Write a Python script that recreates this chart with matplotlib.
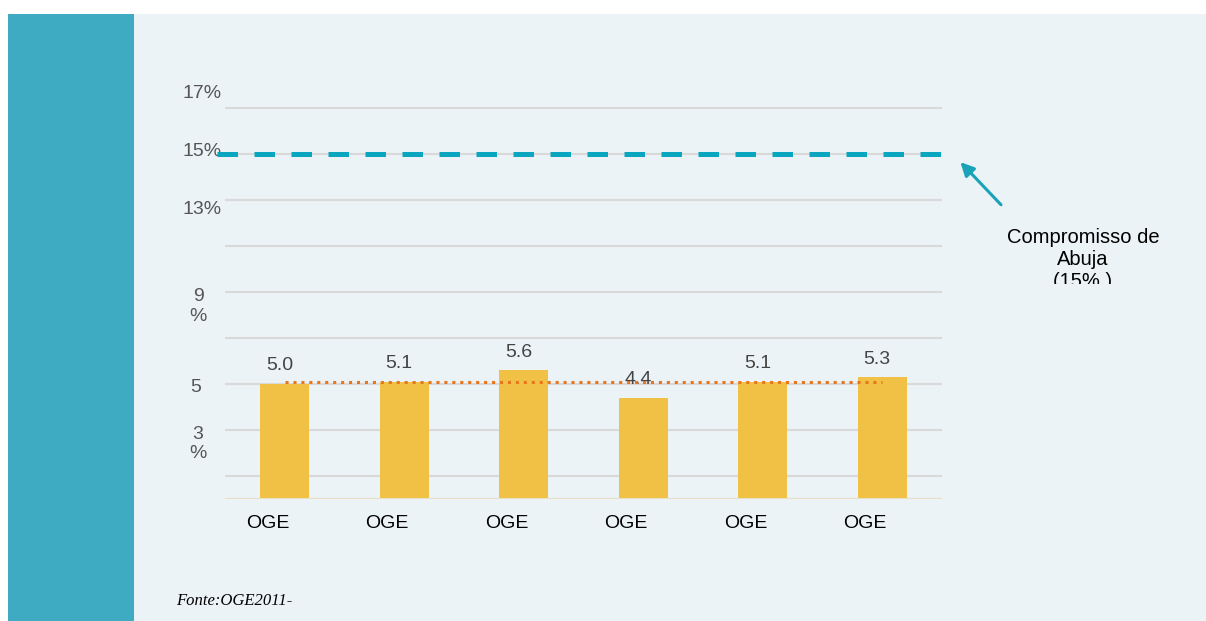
import numpy as np
import matplotlib.pyplot as plt
from matplotlib.patches import Rectangle

categories = ["OGE", "OGE", "OGE", "OGE", "OGE", "OGE"]
values = [5.0, 5.1, 5.6, 4.4, 5.1, 5.3]
abuja_target = 15
grid_values = [0, 1, 3, 5, 7, 9, 11, 13, 15, 17]
tick_values = [17, 15, 13, 9, 5, 3]
tick_labels = ["17%", "15%", "13%", "9\n%", "5", "3\n%"]

avg = np.mean(values)

# label placement tweaks (pixels) to mimic the original layout
tick_offsets = [(-3, 15, 'right'), (-3, 2, 'right'), (-3, -9, 'right'),
                (-27, -14.5, 'center'), (-29, -3, 'center'), (-27, -14, 'center')]

plt.rcParams['font.family'] = ['Liberation Sans', 'DejaVu Sans']

W, H = 1206, 621
fig = plt.figure(figsize=(W / 100, H / 100), dpi=100, facecolor='white')

# background panels
fig.patches.append(Rectangle((8 / W, 0), 126 / W, 607 / H, transform=fig.transFigure,
                             facecolor='#3FABC3', edgecolor='none', zorder=-2))
fig.patches.append(Rectangle((134 / W, 0), 1072 / W, 607 / H, transform=fig.transFigure,
                             facecolor='#EBF3F6', edgecolor='none', zorder=-2))

ax = fig.add_axes([225 / W, 122 / H, 717 / W, 402.5 / H])
ax.set_facecolor('none')
x = np.arange(len(categories))

for g in grid_values:
    ax.axhline(g, color='#D9D9D9', lw=1.5, zorder=1)

ax.bar(x, values, width=0.41, color='#F0C145', zorder=2)
ax.axhline(0, color='#E9DFC2', lw=1.5, zorder=3)

for xi, v in zip(x, values):
    ax.annotate(f"{v:.1f}", xy=(xi, v), xytext=(-5, 18), textcoords='offset pixels',
                ha='center', va='center', fontsize=14, color='#444444', zorder=4)

for xi, c in zip(x, categories):
    ax.annotate(c, xy=(xi, 0), xytext=(-17, -25), textcoords='offset pixels',
                ha='center', va='center', fontsize=14, color='black', annotation_clip=False)

for tv, tl, (dx, dy, ha) in zip(tick_values, tick_labels, tick_offsets):
    ax.annotate(tl, xy=(0, tv), xycoords=('axes fraction', 'data'), xytext=(dx, dy),
                textcoords='offset pixels', ha=ha, va='center', fontsize=14,
                color='#555555', linespacing=1.2, annotation_clip=False)

ax.plot([x[0], x[-1]], [avg, avg], color='#E8761C', lw=2.2, linestyle=(0, (1, 1.6)), zorder=5)

ax.axhline(abuja_target, xmin=-8 / 717, xmax=1, color='#0AA5BF', lw=3.6,
           linestyle=(0, (4.1, 3.3)), zorder=5, clip_on=False)

ax.set_xlim(-0.5, len(categories) - 0.5)
ax.set_ylim(0, 17.5)
ax.set_xticks([])
ax.set_yticks([])
for s in ax.spines.values():
    s.set_visible(False)

ax.annotate('', xy=(1.023, 0.842), xytext=(1.085, 0.726), xycoords='axes fraction',
            textcoords='axes fraction',
            arrowprops=dict(arrowstyle='-|>', color='#1AA3B8', lw=2.2, mutation_scale=20))

fig.text(1083 / W, 1 - 228 / H, "Compromisso de\nAbuja\n(15% )", ha='center', va='top',
         fontsize=14.5, color='black', linespacing=1.2, zorder=3)
# the original box cuts off the last line of the note
fig.add_artist(Rectangle((1000 / W, 1 - 305 / H), 170 / W, 21 / H, transform=fig.transFigure,
                         facecolor='#EBF3F6', edgecolor='none', zorder=10))

fig.text(176 / W, 1 - 601 / H, "Fonte:OGE2011-", fontsize=12, style='italic',
         family=['Liberation Serif', 'DejaVu Serif'], va='center', color='black')

fig.savefig('out.png', dpi=100, facecolor='white')
